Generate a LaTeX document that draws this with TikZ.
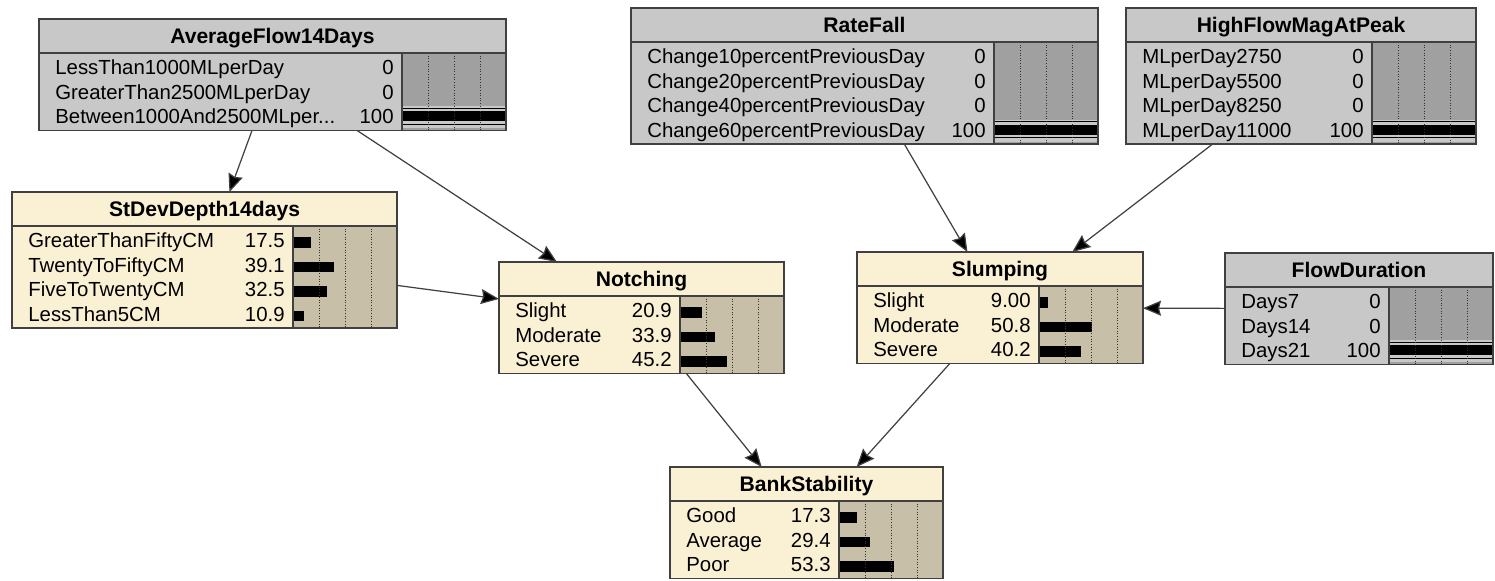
\documentclass[tikz,border=0pt]{standalone}
\usepackage{fontspec}
\setmainfont{Liberation Sans}
\usetikzlibrary{arrows.meta,calc}

\definecolor{greyhead}{HTML}{C8C8C8}
\definecolor{greybar}{HTML}{A0A0A0}
\definecolor{creamhead}{HTML}{FAF0D4}
\definecolor{creambar}{HTML}{C8BFA8}
\definecolor{edgecol}{HTML}{404040}

\newcommand{\bndots}{...}
% #1 name, #2 left, #3 top, #4 width, #5 rows, #6 kind, #7 title, #8 states
\newcommand{\bnnode}[8]{%
  \pgfmathsetmacro{\bnh}{38+24.5*#5}
  \node[netbox, fill=#6head, minimum width=#4*0.02cm, minimum height=\bnh*0.02cm, anchor=north west] (#1) at (#2,#3) {};
  \fill[#6bar] ($(#1.north east)+(-104,34)$) rectangle (#1.south east);
  \node[titletext, anchor=base] at ($(#1.north)+(0,24.5)$) {#7};
  \foreach \lab/\val [count=\i] in {#8} {
    \pgfmathsetmacro{\yc}{48.25+24.5*(\i-1)}
    \node[rowtext, anchor=base west] at ($(#1.north west)+(16,\yc+7.5)$) {\lab};
    \node[rowtext, anchor=base east] at ($(#1.north east)+(-112,\yc+7.5)$) {\val};
    \ifdim\val pt>99pt
      \fill[#6head] ($(#1.north east)+(-104,\yc-10)$) rectangle ($(#1.north east)+(0,\yc+12)$);
      \draw[line width=0.5pt] ($(#1.north east)+(-104,\yc-8)$) -- ++(104,0);
      \draw[line width=0.5pt] ($(#1.north east)+(-104,\yc+8)$) -- ++(104,0);
      \fill ($(#1.north east)+(-104,\yc-5)$) rectangle ++(104,10);
    \else
      \fill ($(#1.north east)+(-104,\yc-3)$) rectangle ++(1.04*\val,10.5);
    \fi
  }
  \foreach \f in {26,52,78}
    \draw[gridline] ($(#1.north east)+(-104+\f,34)$) -- ($(#1.south east)+(-104+\f,0)$);
  \draw[netline] ($(#1.north west)+(0,34)$) -- ($(#1.north east)+(0,34)$);
  \draw[netline] ($(#1.north east)+(-104,34)$) -- ($(#1.south east)+(-104,0)$);
  \draw[netline] (#1.north west) rectangle (#1.south east);
}

\begin{document}
\begin{tikzpicture}[x=0.02cm, y=-0.02cm,
  netbox/.style={draw=edgecol, line width=0.6pt, inner sep=0pt, outer sep=0pt},
  netline/.style={draw=edgecol, line width=0.6pt},
  titletext/.style={font=\bfseries\fontsize{12}{14}\selectfont, inner sep=0pt},
  rowtext/.style={font=\fontsize{11.6}{13}\selectfont, inner sep=0pt},
  gridline/.style={densely dotted, draw=black!80, line width=0.5pt},
  link/.style={draw=edgecol, line width=0.7pt, -{Stealth[length=0.36cm, width=0.3cm, inset=0.04cm, fill=black]}}]
\useasboundingbox (0,0) rectangle (1495,581);

\bnnode{avg}{39}{19}{467}{3}{grey}{AverageFlow14Days}{LessThan1000MLperDay/0, GreaterThan2500MLperDay/0, Between1000And2500MLper\bndots/100}
\bnnode{stdev}{12}{192}{385}{4}{cream}{StDevDepth14days}{GreaterThanFiftyCM/17.5, TwentyToFiftyCM/39.1, FiveToTwentyCM/32.5, LessThan5CM/10.9}
\bnnode{notch}{499}{262}{285}{3}{cream}{Notching}{Slight/20.9, Moderate/33.9, Severe/45.2}
\bnnode{rate}{631}{8}{467}{4}{grey}{RateFall}{Change10percentPreviousDay/0, Change20percentPreviousDay/0, Change40percentPreviousDay/0, Change60percentPreviousDay/100}
\bnnode{high}{1126}{8}{350}{4}{grey}{HighFlowMagAtPeak}{MLperDay2750/0, MLperDay5500/0, MLperDay8250/0, MLperDay11000/100}
\bnnode{slump}{857}{252}{286}{3}{cream}{Slumping}{Slight/9.00, Moderate/50.8, Severe/40.2}
\bnnode{flow}{1225}{253}{268}{3}{grey}{FlowDuration}{Days7/0, Days14/0, Days21/100}
\bnnode{bank}{670}{467}{273}{3}{cream}{BankStability}{Good/17.3, Average/29.4, Poor/53.3}

\draw[link] (avg) -- (stdev);
\draw[link] (avg) -- (notch);
\draw[link] (stdev) -- (notch);
\draw[link] (rate) -- (slump);
\draw[link] (high) -- (slump);
\draw[link] (flow) -- (slump);
\draw[link] (notch) -- (bank);
\draw[link] (slump) -- (bank);
\end{tikzpicture}
\end{document}
